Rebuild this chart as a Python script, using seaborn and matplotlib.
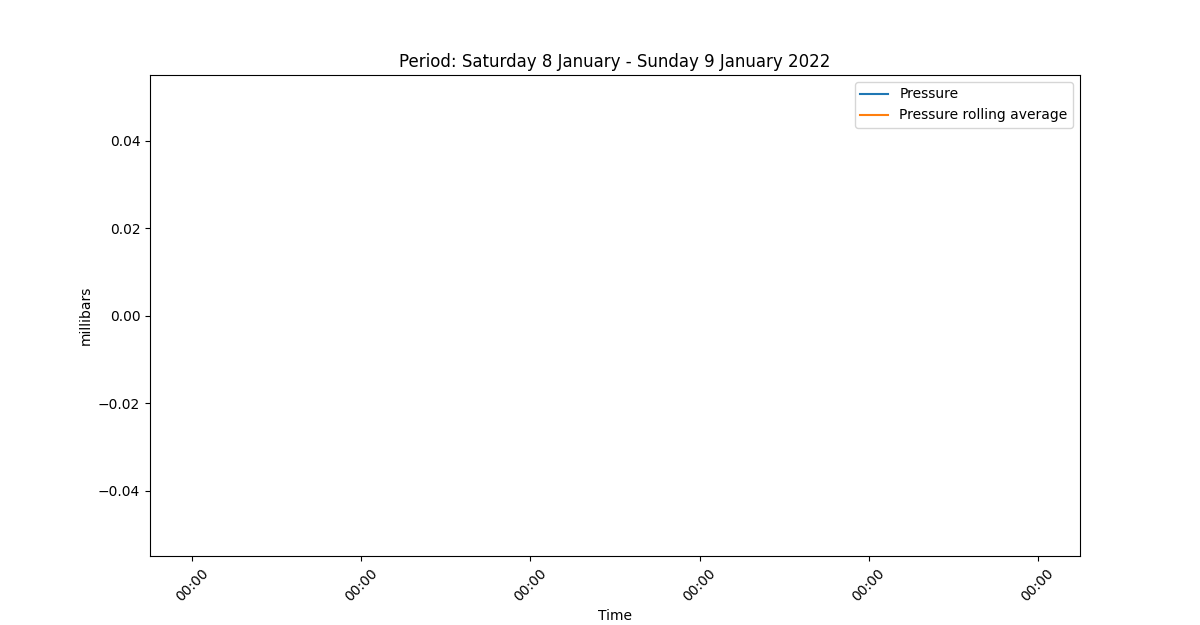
import matplotlib

matplotlib.use("Agg")

import matplotlib.dates as mdates
import matplotlib.pyplot as plt
import pandas as pd
import seaborn as sns

# the source frame for this period came back empty, so both series have no rows
times = pd.to_datetime(pd.Series([], dtype="datetime64[ns]"))
pressure = []
pressure_rolling = []

tick_days = pd.date_range("2022-01-04", "2022-01-09", freq="D")
series_labels = ["Pressure", "Pressure rolling average"]
title = "Period: Saturday 8 January - Sunday 9 January 2022"


def main() -> None:
    palette = sns.color_palette("tab10")
    frame = pd.DataFrame({"time": times, "pressure": pd.Series(pressure, dtype=float),
                          "rolling": pd.Series(pressure_rolling, dtype=float)})

    fig, ax = plt.subplots(figsize=(12, 6.25), dpi=100)
    fig.subplots_adjust(left=0.125, right=0.9, top=0.88, bottom=0.11)

    for column, label, colour in zip(["pressure", "rolling"], series_labels, palette):
        sns.lineplot(data=frame, x="time", y=column, ax=ax, color=colour, label=label)
        # seaborn skips empty data, keep a legend handle anyway
        if not any(line.get_label() == label for line in ax.get_lines()):
            ax.plot(frame["time"], frame[column], color=colour, label=label)

    ax.xaxis.set_major_locator(mdates.DayLocator())
    ax.xaxis.set_major_formatter(mdates.DateFormatter("%H:%M"))
    pad = pd.Timedelta(hours=6)
    ax.set_xlim(tick_days[0] - pad, tick_days[-1] + pad)
    ax.set_ylim(-0.055, 0.055)
    plt.setp(ax.get_xticklabels(), rotation=45)

    ax.set_title(title)
    ax.set_xlabel("Time")
    ax.set_ylabel("millibars")
    ax.legend(loc="upper right")

    fig.savefig("out.png", dpi=100)
    plt.close(fig)


if __name__ == "__main__":
    main()
